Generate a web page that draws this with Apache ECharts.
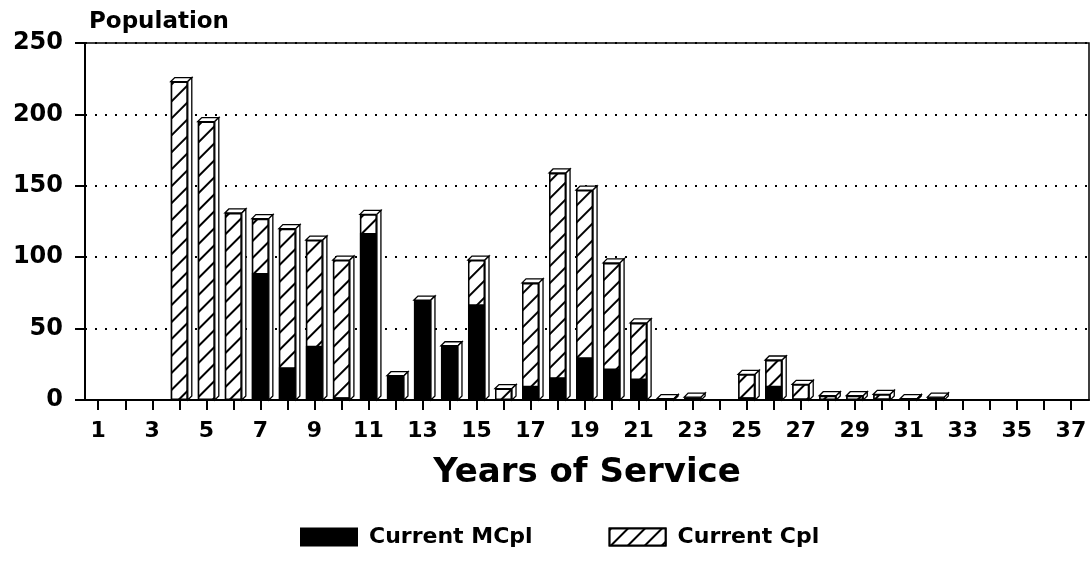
<!DOCTYPE html>
<html>
<head>
<meta charset="utf-8">
<script src="https://cdn.jsdelivr.net/npm/echarts@6/dist/echarts.min.js"></script>
<style>
  html, body { margin: 0; padding: 0; background: #fff; }
  #main { width: 1092px; height: 563px; }
</style>
</head>
<body>
<div id="main"></div>
<script>
// years of service 1..37
var years = [1, 2, 3, 4, 5, 6, 7, 8, 9, 10, 11, 12, 13, 14, 15, 16, 17, 18, 19,
  20, 21, 22, 23, 24, 25, 26, 27, 28, 29, 30, 31, 32, 33, 34, 35, 36, 37];
var mcpl = [0, 0, 0, 0, 0, 0, 89, 23, 38, 2, 117, 17, 70, 38, 67, 0, 10, 16, 30,
  22, 15, 0, 0, 0, 2, 10, 1, 0, 0, 1, 0, 0, 0, 0, 0, 0, 0];
var cpl = [0, 0, 0, 223, 195, 131, 38, 97, 74, 96, 13, 0, 0, 0, 31, 8, 72, 143, 117,
  74, 39, 1, 2, 0, 16, 18, 10, 3, 3, 3, 1, 2, 0, 0, 0, 0, 0];
var yTicks = [0, 50, 100, 150, 200, 250];
var xLabels = [1, 3, 5, 7, 9, 11, 13, 15, 17, 19, 21, 23, 25, 27, 29, 31, 33, 35, 37];

var FONT = 'DejaVu Sans';
var hatch = {
  symbol: 'rect',
  symbolSize: 1,
  dashArrayX: [[1, 0]],
  dashArrayY: [1.2, 10],
  rotation: -Math.PI / 4,
  color: '#000',
  backgroundColor: '#fff'
};

// Cpl sits on top of MCpl: draw the hatched bar to the total, black part over it
var mcplData = years.map(function (y, i) { return [y, mcpl[i]]; });
var topData = years.map(function (y, i) { return [y, mcpl[i] + cpl[i]]; });
var totals = topData.filter(function (d) { return d[1] > 0; });

var chart = echarts.init(document.getElementById('main'));
var option = {
  backgroundColor: '#fff',
  animation: false,
  title: {
    text: 'Population',
    left: 84,
    top: 6,
    textStyle: { fontFamily: FONT, fontWeight: 'bold', fontSize: 23, color: '#000' }
  },
  legend: {
    left: 300,
    top: 526,
    itemWidth: 56,
    itemHeight: 17,
    itemGap: 76,
    padding: 0,
    icon: 'rect',
    textStyle: { fontFamily: FONT, fontWeight: 'bold', fontSize: 22, color: '#000', padding: [0, 0, 0, 7] },
    data: ['Current MCpl', 'Current Cpl']
  },
  grid: {
    left: 85, right: 3, top: 43, bottom: 163,
    show: true,
    borderColor: '#000',
    borderWidth: 1.5
  },
  xAxis: {
    type: 'value',
    min: 0.51,
    max: 37.67,
    name: 'Years of Service',
    nameLocation: 'middle',
    nameGap: 56,
    nameTextStyle: { fontFamily: FONT, fontWeight: 'bold', fontSize: 34, color: '#000' },
    axisLine: { show: true, lineStyle: { color: '#000', width: 2 } },
    axisTick: { show: true, length: 10, customValues: years, lineStyle: { color: '#000', width: 2 } },
    axisLabel: {
      customValues: xLabels,
      margin: 20,
      fontFamily: FONT, fontWeight: 'bold', fontSize: 22, color: '#000'
    },
    splitLine: { show: false }
  },
  yAxis: {
    type: 'value',
    min: 0,
    max: 250,
    interval: 50,
    axisLine: { show: true, lineStyle: { color: '#000', width: 2 } },
    axisTick: { show: true, length: 10, customValues: yTicks, lineStyle: { color: '#000', width: 2 } },
    axisLabel: { margin: 22, fontFamily: FONT, fontWeight: 'bold', fontSize: 24, color: '#000' },
    splitLine: { show: true, lineStyle: { color: '#000', width: 2, type: [2, 8] } }
  },
  series: [
    {
      name: 'Current Cpl',
      type: 'bar',
      barWidth: 17,
      barGap: '-100%',
      data: topData,
      z: 2,
      itemStyle: { color: '#fff', borderColor: '#000', borderWidth: 1.5, decal: hatch }
    },
    {
      name: 'Current MCpl',
      type: 'bar',
      barWidth: 17,
      barGap: '-100%',
      data: mcplData,
      z: 3,
      itemStyle: { color: '#000', borderColor: '#000', borderWidth: 1.5 }
    },
    {
      // 3D top and side faces of each bar
      name: 'depth',
      type: 'custom',
      data: totals,
      z: 5,
      silent: true,
      renderItem: function (params, api) {
        var top = api.coord([api.value(0), api.value(1)]);
        var base = api.coord([api.value(0), 0]);
        var hw = 8.5, d = 4;
        var xl = top[0] - hw, xr = top[0] + hw;
        var st = { fill: '#fff', stroke: '#000', lineWidth: 1.3 };
        return {
          type: 'group',
          children: [
            { type: 'polygon', shape: { points: [[xl, top[1]], [xl + d, top[1] - d], [xr + d, top[1] - d], [xr, top[1]]] }, style: st },
            { type: 'polygon', shape: { points: [[xr, top[1]], [xr + d, top[1] - d], [xr + d, base[1] - d], [xr, base[1]]] }, style: st }
          ]
        };
      }
    }
  ]
};
chart.setOption(option);
</script>
</body>
</html>
